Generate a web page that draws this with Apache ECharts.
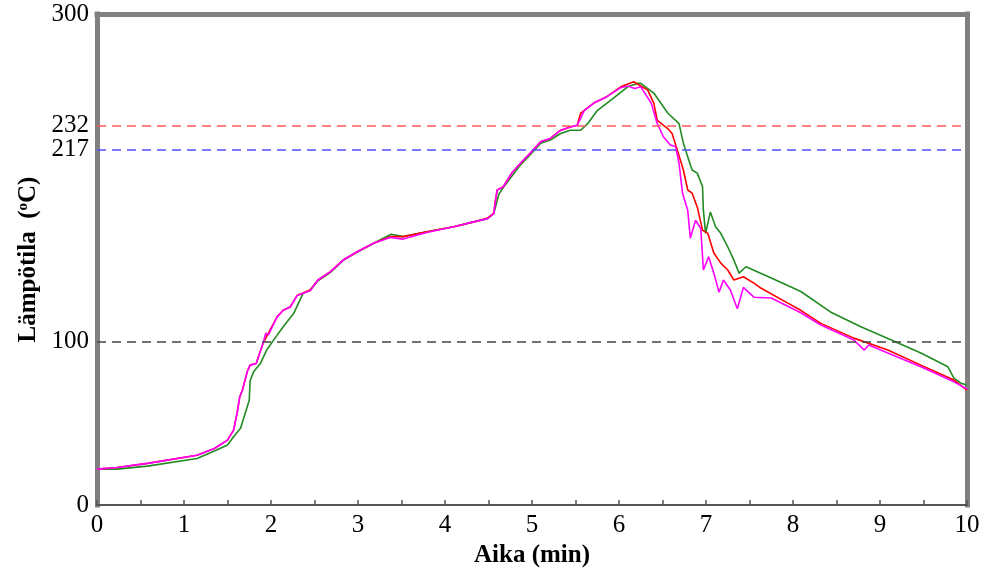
<!DOCTYPE html>
<html><head><meta charset="utf-8">
<script src="https://cdn.jsdelivr.net/npm/echarts@6/dist/echarts.min.js"></script>
<style>html,body{margin:0;padding:0;background:#fff}#c{width:997px;height:573px}</style>
</head><body><div id="c"></div>
<script>
// ---- data (time in min, temperature in °C) ----
var greenTime = [0,0.23,0.58,1.15,1.35,1.5,1.57,1.65,1.75,1.76,1.80,1.88,1.95,2.03,2.14,2.26,2.37,2.45,2.54,2.68,2.83,2.99,3.18,3.38,3.52,3.79,4.10,4.33,4.49,4.56,4.59,4.62,4.67,4.77,4.87,4.98,5.10,5.21,5.33,5.44,5.56,5.64,5.75,5.94,6.10,6.21,6.25,6.40,6.56,6.69,6.74,6.79,6.84,6.90,6.96,6.97,6.995,7.05,7.11,7.17,7.25,7.32,7.38,7.46,7.75,8.09,8.43,8.78,9.13,9.47,9.78,9.85,9.93,10];
var greenTemp = [22,22,23.8,28.5,33,36.7,41.7,47,64,76,81.4,86.7,94.7,100.8,109,117,129.5,131.4,137,142,149.5,154.5,160,165.5,164,167,170,173,175,178,184,190,194,201,208,214,221,223,227,229,229,233,241,248.7,255.5,257.6,257.6,251.7,239.5,233,221,212.8,204.7,202.8,194.5,180,166,179,170,166,157.8,149.7,141.7,145.6,138.7,130.5,118,109,100.8,92.9,84.5,77.6,74.5,73.3];

var redTime = [0,0.23,0.58,1.15,1.35,1.5,1.57,1.61,1.64,1.67,1.73,1.76,1.83,1.91,1.95,2.07,2.14,2.22,2.30,2.45,2.54,2.68,2.83,2.99,3.18,3.37,3.52,3.79,4.10,4.33,4.49,4.56,4.58,4.60,4.67,4.77,4.87,4.98,5.10,5.21,5.33,5.44,5.52,5.56,5.71,5.86,6.02,6.17,6.33,6.40,6.44,6.56,6.61,6.67,6.74,6.79,6.84,6.90,6.96,7.02,7.09,7.17,7.25,7.32,7.43,7.55,7.63,7.94,8.09,8.32,8.70,9.09,9.47,9.85,10];
var redTemp = [22,23,25.5,30.5,34.6,39.7,45.8,56,66,70,82,85.5,86.5,99,103,115,119,121,128,131.4,137.5,142.5,149.7,154.8,160,164,164,167,170,173,175.3,178.4,186,192.5,194.5,203,209,215,222,224,229,231,232,239.5,245.6,249.5,255.5,258.6,253.5,245.6,235,230,227,217,204.7,192.5,190.6,182,168,166,154,147.8,143.6,137.5,139.5,135.6,132.6,123.4,119,111,102,94.7,85.5,76.4,70.3];

var magentaTime = [0,0.23,0.58,1.15,1.35,1.5,1.57,1.61,1.64,1.67,1.73,1.76,1.83,1.91,1.94,1.97,2.07,2.14,2.22,2.30,2.45,2.54,2.68,2.83,2.99,3.18,3.37,3.52,3.79,4.10,4.33,4.49,4.56,4.58,4.60,4.67,4.77,4.87,4.98,5.10,5.21,5.33,5.44,5.52,5.60,5.71,5.86,6.02,6.10,6.18,6.25,6.37,6.44,6.51,6.59,6.65,6.69,6.73,6.79,6.82,6.88,6.94,6.97,7.03,7.09,7.15,7.20,7.28,7.36,7.43,7.55,7.75,8.09,8.32,8.70,8.82,8.87,9.09,9.47,9.85,10];
var magentaTemp = [22,23,25.5,30.5,34.6,39.7,45.8,56,66,70,82,85.5,86.5,99,105,104,115,119,121,128,131,137.5,142.5,149.7,154.8,160,163.5,162.5,166.5,170,173,175,178,186,192.5,194.5,203,209,215,222,224,229,231,232,241,245.6,249.5,255,256,254.5,255.5,245.6,233,225,220,219,209,190.6,180,163,174,169,143.6,151.7,141.7,130,137.5,131.4,120,133,127,126.5,117.5,110,100.8,94.7,97.8,92.9,84.5,75.3,70.9];

var refLevels = [232, 217, 100];
var refColors = ['#ff5a5a', '#5050ff', '#444444'];
var yLabelValues = [0, 100, 217, 232, 300];
var xTickValues = [0,0.5,1,1.5,2,2.5,3,3.5,4,4.5,5,5.5,6,6.5,7,7.5,8,8.5,9,9.5,10];

function zip(t, v) { return t.map(function (x, i) { return [x, v[i]]; }); }

var FONT = '"Liberation Serif","Times New Roman",serif';
var FRAME = '#808080';

var chart = echarts.init(document.getElementById('c'), null, { renderer: 'canvas' });
chart.setOption({
  animation: false,
  backgroundColor: '#fff',
  grid: { left: 97, right: 30, top: 14, bottom: 67 },
  xAxis: [{
    type: 'value', min: 0, max: 10, interval: 1, position: 'bottom',
    axisLine: { show: true, lineStyle: { color: '#555', width: 2 } },
    axisTick: { show: true, inside: true, length: 5, customValues: xTickValues, lineStyle: { color: '#555', width: 1.5 } },
    axisLabel: { color: '#000', fontFamily: FONT, fontSize: 25, margin: 8 },
    splitLine: { show: false },
    name: 'Aika (min)', nameLocation: 'middle', nameGap: 34,
    nameTextStyle: { color: '#000', fontFamily: FONT, fontSize: 25, fontWeight: 'bold' }
  }, {
    type: 'value', min: 0, max: 10, position: 'top',
    axisLine: { show: true, onZero: false, lineStyle: { color: FRAME, width: 5, cap: 'square' } },
    axisTick: { show: false }, axisLabel: { show: false }, splitLine: { show: false }
  }],
  yAxis: [{
    type: 'value', min: 0, max: 300, position: 'left',
    axisLine: { show: true, lineStyle: { color: FRAME, width: 5, cap: 'square' } },
    axisTick: { show: false },
    axisLabel: { color: '#000', fontFamily: FONT, fontSize: 25, margin: 8, customValues: yLabelValues },
    splitLine: { show: false },
    name: 'Lämpötila  ({s|o}C)', nameLocation: 'middle', nameGap: 52,
    nameTextStyle: {
      color: '#000', fontFamily: FONT, fontSize: 25, fontWeight: 'bold',
      rich: { s: { color: '#000', fontFamily: FONT, fontSize: 15, fontWeight: 'bold', padding: [0, 0, 10, 0] } }
    }
  }, {
    type: 'value', min: 0, max: 300, position: 'right',
    axisLine: { show: true, onZero: false, lineStyle: { color: FRAME, width: 5, cap: 'square' } },
    axisTick: { show: false }, axisLabel: { show: false }, splitLine: { show: false }
  }],
  series: [{
    type: 'line', data: [], silent: true,
    markLine: {
      silent: true, symbol: 'none', label: { show: false },
      data: refLevels.map(function (v, i) {
        return { yAxis: v, lineStyle: { color: refColors[i], type: [9, 6], width: 1.5 } };
      })
    }
  }, {
    name: 'green', type: 'line', showSymbol: false, symbol: 'none',
    data: zip(greenTime, greenTemp), lineStyle: { color: '#228b22', width: 1.6 }
  }, {
    name: 'red', type: 'line', showSymbol: false, symbol: 'none',
    data: zip(redTime, redTemp), lineStyle: { color: '#ff0000', width: 1.6 }
  }, {
    name: 'magenta', type: 'line', showSymbol: false, symbol: 'none',
    data: zip(magentaTime, magentaTemp), lineStyle: { color: '#ff00ff', width: 1.6 }
  }]
});
</script></body></html>
